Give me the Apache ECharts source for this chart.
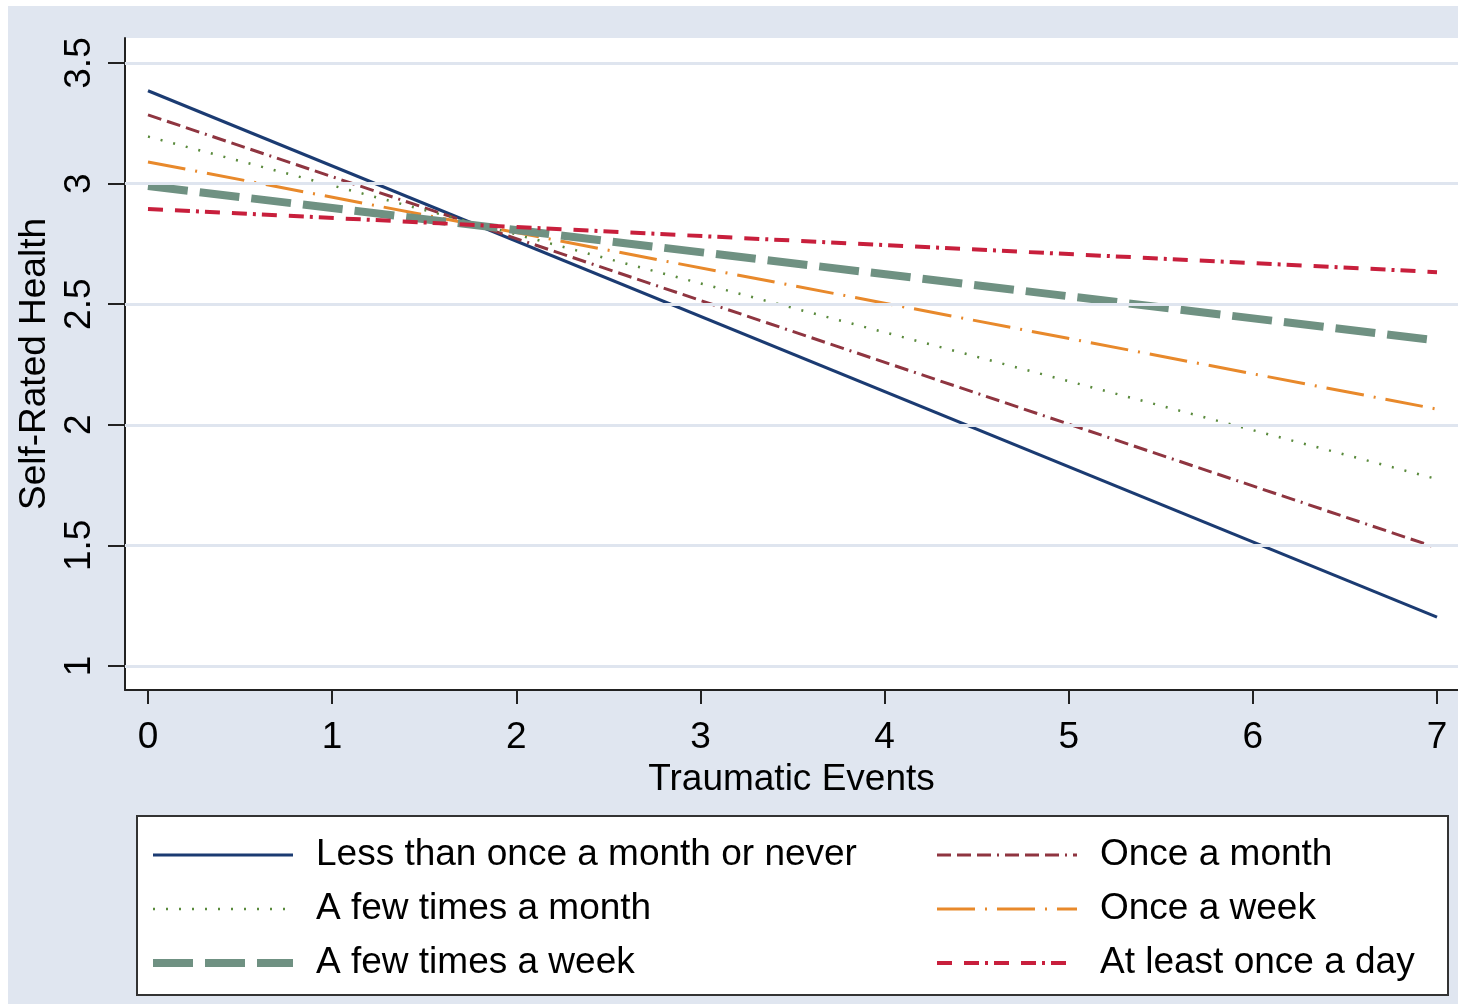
<!DOCTYPE html>
<html>
<head>
<meta charset="utf-8">
<script src="https://cdn.jsdelivr.net/npm/echarts@6/dist/echarts.min.js"></script>
<style>html,body{margin:0;padding:0;background:#fff;}#c{width:1458px;height:1004px;}</style>
</head>
<body>
<div id="c"></div>
<script>
const xValues = [0, 7];
const seriesNames = [
  'Less than once a month or never',
  'Once a month',
  'A few times a month',
  'Once a week',
  'A few times a week',
  'At least once a day'
];
const lessThanMonthly = [3.385, 1.203];
const onceMonth = [3.285, 1.49];
const fewMonth = [3.195, 1.775];
const onceWeek = [3.09, 2.065];
const fewWeek = [2.99, 2.35];
const daily = [2.895, 2.633];
const yTicks = [1, 1.5, 2, 2.5, 3, 3.5];
const xTicks = [0, 1, 2, 3, 4, 5, 6, 7];
const xTitle = 'Traumatic Events';
const yTitle = 'Self-Rated Health';

const FONT = 'Liberation Sans, Arial, sans-serif';
const styles = [
  {color: '#1b3b72', width: 3, type: 'solid'},
  {color: '#8f3540', width: 3, type: [14, 6, 14, 6, 14, 6, 2, 6]},
  {color: '#5a8a3c', width: 2.5, type: [2, 11]},
  {color: '#e8892b', width: 3, type: [38, 10, 2, 10]},
  {color: '#6f9182', width: 8, type: [40, 12]},
  {color: '#c81f3c', width: 4, type: [15, 12, 15, 6, 3, 6]}
];
const values = [lessThanMonthly, onceMonth, fewMonth, onceWeek, fewWeek, daily];

const chart = echarts.init(document.getElementById('c'), null, {renderer: 'canvas'});

const series = seriesNames.map((name, i) => ({
  name: name,
  type: 'line',
  symbol: 'none',
  animation: false,
  z: 3,
  lineStyle: styles[i],
  itemStyle: {color: styles[i].color},
  data: xValues.map((x, j) => [x, values[i][j]])
}));
series.unshift({
  name: '_grid',
  type: 'line',
  data: [],
  z: 1,
  silent: true,
  animation: false,
  markLine: {
    silent: true,
    symbol: 'none',
    animation: false,
    label: {show: false},
    lineStyle: {color: '#dfe5ef', width: 3, type: 'solid'},
    data: yTicks.map(v => ({yAxis: v}))
  }
});

const legendCommon = {
  orient: 'vertical',
  top: 830,
  itemWidth: 140,
  itemHeight: 14,
  itemGap: 14,
  lineStyle: {width: 'inherit', type: 'inherit', color: 'inherit'},
  itemStyle: {opacity: 0},
  textStyle: {fontFamily: FONT, fontSize: 37, color: '#000', lineHeight: 40, padding: [0, 0, 0, 18]},
  selectedMode: false
};

chart.setOption({
  backgroundColor: '#fff',
  animation: false,
  graphic: [
    {type: 'rect', z: -10, silent: true, shape: {x: 8, y: 6, width: 1450, height: 998}, style: {fill: '#e0e6f0'}},
    {type: 'rect', z: -5, silent: true, shape: {x: 137, y: 816, width: 1311, height: 179}, style: {fill: '#fff', stroke: '#333', lineWidth: 2}}
  ],
  grid: {left: 125, top: 38, right: 0, height: 652, show: true, backgroundColor: '#fff', borderWidth: 0, containLabel: false},
  xAxis: {
    type: 'value',
    min: -0.1249,
    max: 7.114,
    name: xTitle,
    nameLocation: 'middle',
    nameGap: 67,
    nameTextStyle: {fontFamily: FONT, fontSize: 37, color: '#000'},
    axisLine: {show: true, onZero: false, lineStyle: {color: '#222', width: 2}},
    axisTick: {show: true, length: 14, lineStyle: {color: '#222', width: 2}, customValues: xTicks},
    axisLabel: {fontFamily: FONT, fontSize: 37, color: '#000', margin: 29, customValues: xTicks, formatter: v => String(v)},
    splitLine: {show: false}
  },
  yAxis: {
    type: 'value',
    min: 0.9005,
    max: 3.6037,
    name: yTitle,
    nameLocation: 'middle',
    nameGap: 60,
    nameTextStyle: {fontFamily: FONT, fontSize: 37, color: '#000'},
    axisLine: {show: true, onZero: false, lineStyle: {color: '#222', width: 2}},
    axisTick: {show: true, length: 17, lineStyle: {color: '#222', width: 2}, customValues: yTicks},
    axisLabel: {fontFamily: FONT, fontSize: 37, color: '#000', margin: 27, rotate: 90, customValues: yTicks, formatter: v => String(v)},
    splitLine: {show: false}
  },
  legend: [
    Object.assign({}, legendCommon, {left: 144, data: [seriesNames[0], seriesNames[2], seriesNames[4]]}),
    Object.assign({}, legendCommon, {left: 930, data: [seriesNames[1], seriesNames[3], seriesNames[5]]})
  ],
  series: series
});
</script>
</body>
</html>
